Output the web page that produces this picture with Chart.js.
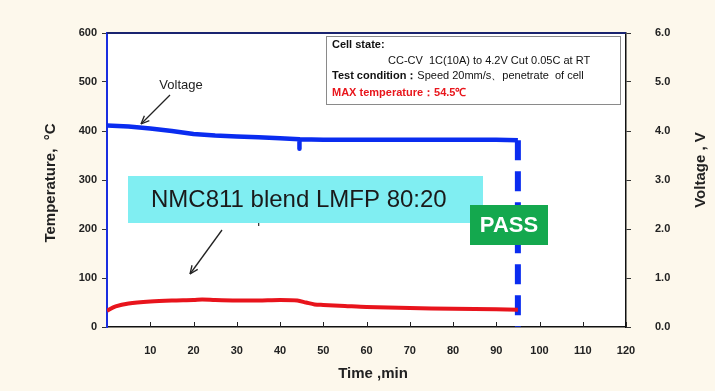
<!DOCTYPE html>
<html>
<head>
<meta charset="utf-8">
<script src="https://cdn.jsdelivr.net/npm/chart.js@4"></script>
<style>
  html, body { margin: 0; padding: 0; background: #fdf8ec; }
  #wrap { width: 715px; height: 391px; }
</style>
</head>
<body>
<div id="wrap"><canvas id="chart" width="715" height="391"></canvas></div>
<script>
// datos
const tiempoVolt = [0, 5, 10, 15, 20, 25, 30, 35, 40, 44.5, 44.5, 44.5, 50, 60, 70, 80, 90, 95];
const voltaje = [4.11, 4.09, 4.05, 4.0, 3.94, 3.91, 3.89, 3.87, 3.85, 3.83, 3.64, 3.83, 3.82, 3.82, 3.82, 3.82, 3.82, 3.81];
const tiempoTemp = [0, 2, 5, 10, 15, 20, 22, 25, 30, 35, 40, 44, 46, 48, 50, 55, 60, 70, 80, 90, 95];
const temperatura = [33, 42, 48, 52, 54, 55, 56, 55, 54, 54, 55, 54, 50, 46, 45, 43, 41, 39, 37, 36, 35];
const corteTiempo = [95, 95];
const corteVoltaje = [3.81, 0];
const ticksTiempo = [10, 20, 30, 40, 50, 60, 70, 80, 90, 100, 110, 120];
const ticksTemp = [0, 100, 200, 300, 400, 500, 600];
const ticksVolt = ['0.0', '1.0', '2.0', '3.0', '4.0', '5.0', '6.0'];

const FUENTE = '"Liberation Sans", Arial, sans-serif';
const toXY = (xs, ys) => xs.map((x, i) => ({ x, y: ys[i] }));

const fondo = {
  id: 'fondo',
  beforeDraw(chart) {
    const { ctx, chartArea: a } = chart;
    ctx.save();
    ctx.fillStyle = '#fdf8ec';
    ctx.fillRect(0, 0, chart.width, chart.height);
    ctx.fillStyle = '#ffffff';
    ctx.fillRect(a.left, a.top, a.right - a.left, a.bottom - a.top);
    ctx.restore();
  }
};

function flecha(ctx, x1, y1, x2, y2) {
  const ang = Math.atan2(y2 - y1, x2 - x1);
  ctx.beginPath();
  ctx.moveTo(x1, y1);
  ctx.lineTo(x2, y2);
  ctx.stroke();
  ctx.beginPath();
  ctx.moveTo(x2, y2);
  ctx.lineTo(x2 - 9 * Math.cos(ang - 0.4), y2 - 9 * Math.sin(ang - 0.4));
  ctx.moveTo(x2, y2);
  ctx.lineTo(x2 - 9 * Math.cos(ang + 0.4), y2 - 9 * Math.sin(ang + 0.4));
  ctx.stroke();
}

const anotaciones = {
  id: 'anotaciones',
  afterDatasetsDraw(chart) {
    const { ctx, chartArea: a, scales } = chart;
    ctx.save();

    // borde superior del area
    ctx.strokeStyle = '#1a2470';
    ctx.lineWidth = 2;
    ctx.beginPath();
    ctx.moveTo(a.left, a.top);
    ctx.lineTo(a.right, a.top);
    ctx.stroke();

    // ticks hacia dentro en el eje x
    ctx.strokeStyle = '#222';
    ctx.lineWidth = 1;
    ticksTiempo.forEach((t) => {
      const px = Math.round(scales.x.getPixelForValue(t)) + 0.5;
      ctx.beginPath();
      ctx.moveTo(px, a.bottom);
      ctx.lineTo(px, a.bottom - 5);
      ctx.stroke();
    });

    // etiquetas con flecha
    ctx.fillStyle = '#222';
    ctx.font = '13px ' + FUENTE;
    ctx.textAlign = 'center';
    ctx.textBaseline = 'middle';
    ctx.fillText('Voltage', 181, 85);
    ctx.fillText('Templ', 250, 219);
    ctx.lineWidth = 1.3;
    ctx.strokeStyle = '#222';
    flecha(ctx, 170, 95, 141, 124);
    flecha(ctx, 222, 230, 190, 274);

    // cuadro de condiciones
    ctx.fillStyle = '#ffffff';
    ctx.fillRect(326, 36, 294, 68);
    ctx.strokeStyle = '#8a8a8a';
    ctx.lineWidth = 1;
    ctx.strokeRect(326.5, 36.5, 294, 68);
    ctx.textAlign = 'left';
    ctx.fillStyle = '#111';
    ctx.font = 'bold 11px ' + FUENTE;
    ctx.fillText('Cell state:', 332, 45);
    ctx.font = '11px ' + FUENTE;
    ctx.fillText('CC-CV  1C(10A) to 4.2V Cut 0.05C at RT', 388, 61);
    ctx.font = 'bold 11px ' + FUENTE;
    ctx.fillText('Test condition：', 332, 76);
    const w = ctx.measureText('Test condition：').width;
    ctx.font = '11px ' + FUENTE;
    ctx.fillText('Speed 20mm/s、penetrate  of cell', 332 + w, 76);
    ctx.fillStyle = '#e8161c';
    ctx.font = 'bold 11px ' + FUENTE;
    ctx.fillText('MAX temperature：54.5℃', 332, 93);

    // recuadro cian
    ctx.fillStyle = '#80eef2';
    ctx.fillRect(128, 176, 355, 47);
    ctx.fillStyle = '#1a1a1a';
    ctx.font = '24px ' + FUENTE;
    ctx.fillText('NMC811 blend LMFP 80:20', 151, 200);

    // PASS
    ctx.fillStyle = '#14a84e';
    ctx.fillRect(470, 205, 78, 40);
    ctx.fillStyle = '#ffffff';
    ctx.font = 'bold 22px ' + FUENTE;
    ctx.textAlign = 'center';
    ctx.fillText('PASS', 509, 226);

    // titulos de ejes
    ctx.fillStyle = '#222';
    ctx.font = 'bold 15px ' + FUENTE;
    ctx.fillText('Time ,min', 373, 374);
    ctx.save();
    ctx.translate(51, 183);
    ctx.rotate(-Math.PI / 2);
    ctx.fillText('Temperature,  °C', 0, 0);
    ctx.restore();
    ctx.save();
    ctx.translate(701, 170);
    ctx.rotate(-Math.PI / 2);
    ctx.fillText('Voltage , V', 0, 0);
    ctx.restore();

    ctx.restore();
  }
};

new Chart(document.getElementById('chart'), {
  type: 'line',
  data: {
    datasets: [
      {
        label: 'Temp',
        data: toXY(tiempoTemp, temperatura),
        yAxisID: 'y',
        borderColor: '#e8141c',
        borderWidth: 4,
        pointRadius: 0,
        tension: 0.3,
        fill: false,
      },
      {
        label: 'Voltage',
        data: toXY(tiempoVolt, voltaje),
        yAxisID: 'y1',
        borderColor: '#0a2cf0',
        borderWidth: 4.5,
        borderJoinStyle: 'round',
        pointRadius: 0,
        tension: 0,
        fill: false,
      },
      {
        label: 'Corte',
        data: toXY(corteTiempo, corteVoltaje),
        yAxisID: 'y1',
        borderColor: '#0a2cf0',
        borderWidth: 6,
        borderDash: [20, 11],
        pointRadius: 0,
        fill: false,
      },
    ],
  },
  options: {
    responsive: false,
    animation: false,
    layout: { padding: { top: 33, left: 0, right: 0, bottom: 0 } },
    plugins: {
      legend: { display: false },
      tooltip: { enabled: false },
    },
    scales: {
      x: {
        type: 'linear',
        min: 0,
        max: 120,
        afterBuildTicks: (s) => { s.ticks = ticksTiempo.map((v) => ({ value: v })); },
        afterFit: (s) => { s.height = 64; },
        border: { color: '#111', width: 1.5 },
        grid: { display: false, drawTicks: false },
        ticks: {
          padding: 17,
          color: '#222',
          font: { family: FUENTE, size: 11, weight: 'bold' },
        },
      },
      y: {
        position: 'left',
        min: 0,
        max: 600,
        afterBuildTicks: (s) => { s.ticks = ticksTemp.map((v) => ({ value: v })); },
        afterFit: (s) => { s.width = 107; },
        border: { color: '#1a2ee0', width: 2 },
        grid: { drawOnChartArea: false, drawTicks: true, tickLength: 5, color: '#333' },
        ticks: {
          padding: 5,
          color: '#222',
          font: { family: FUENTE, size: 11, weight: 'bold' },
        },
      },
      y1: {
        position: 'right',
        min: 0,
        max: 6,
        afterBuildTicks: (s) => { s.ticks = ticksVolt.map((v) => ({ value: parseFloat(v) })); },
        afterFit: (s) => { s.width = 89; },
        border: { color: '#111', width: 1.5 },
        grid: { drawOnChartArea: false, drawTicks: true, tickLength: 5, color: '#333' },
        ticks: {
          padding: 24,
          color: '#222',
          font: { family: FUENTE, size: 11, weight: 'bold' },
          callback: (v) => ticksVolt[Math.round(v)],
        },
      },
    },
  },
  plugins: [fondo, anotaciones],
});
</script>
</body>
</html>
